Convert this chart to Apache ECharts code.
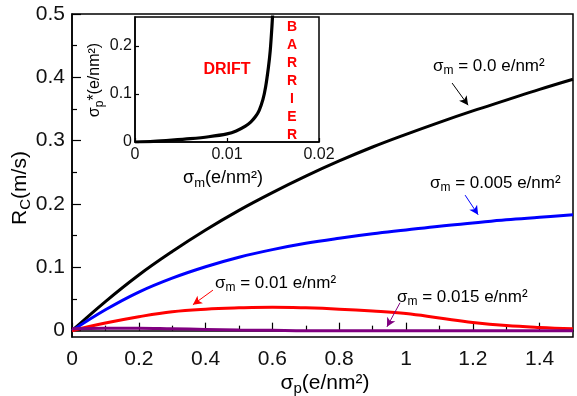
<!DOCTYPE html>
<html>
<head>
<meta charset="utf-8">
<script src="https://cdn.jsdelivr.net/npm/echarts@6/dist/echarts.min.js"></script>
<style>
  html, body { margin: 0; padding: 0; background: #fff; }
  #chart { width: 577px; height: 396px; }
</style>
</head>
<body>
<div id="chart"></div>
<script>
// main panel: Rc (m/s) against sigma_p for four sigma_m values
const sigmaP = [0, 0.1, 0.2, 0.3, 0.4, 0.5, 0.6, 0.7, 0.8, 0.9, 1.0, 1.1, 1.2, 1.3, 1.4, 1.5];
const rcM000 = [0, 0.046, 0.088, 0.125, 0.159, 0.190, 0.218, 0.244, 0.268, 0.290, 0.310, 0.329, 0.347, 0.364, 0.381, 0.397];
const rcM005 = [0, 0.033, 0.061, 0.083, 0.101, 0.116, 0.128, 0.138, 0.146, 0.153, 0.159, 0.165, 0.170, 0.175, 0.179, 0.183];
const rcM010 = [0, 0.012, 0.022, 0.030, 0.034, 0.036, 0.037, 0.036, 0.034, 0.031, 0.027, 0.020, 0.013, 0.008, 0.005, 0.003];
const rcM015 = [0.003, 0.004, 0.004, 0.003, 0.002, 0.001, 0.0005, 0, 0, 0, 0, 0, 0, 0, 0, 0];

// inset: sigma_p* against sigma_m
const sigmaM = [0, 0.002, 0.004, 0.006, 0.008, 0.010, 0.011, 0.012, 0.0126, 0.0131, 0.0135, 0.0139, 0.0142, 0.0145, 0.0147, 0.0149, 0.0150];
const sigmaPStar = [0, 0.0015, 0.004, 0.007, 0.011, 0.017, 0.023, 0.033, 0.042, 0.053, 0.066, 0.088, 0.115, 0.155, 0.190, 0.245, 0.280];

// ticks
const xMajor = [0, 0.2, 0.4, 0.6, 0.8, 1, 1.2, 1.4];
const xMinor = [0.1, 0.3, 0.5, 0.7, 0.9, 1.1, 1.3];
const yMajor = [0, 0.1, 0.2, 0.3, 0.4, 0.5];
const yMinor = [0.05, 0.15, 0.25, 0.35, 0.45];
const insetXTicks = [0, 0.01, 0.02];
const insetYTicks = [0, 0.1, 0.2];

// arrows from each label to its curve, [from, to] in data units
const arrowM000 = [[1.138, 0.391], [1.186, 0.356]];
const arrowM005 = [[1.177, 0.214], [1.216, 0.183]];
const arrowM010 = [[0.422, 0.064], [0.362, 0.041]];
const arrowM015 = [[0.982, 0.044], [0.943, 0.006]];

const FONT = 'Liberation Sans';
const BLACK = '#000000';
const BLUE = '#0000ff';
const RED = '#ff0000';
const PURPLE = '#800080';

const pairs = (xs, ys) => xs.map((x, i) => [x, ys[i]]);

const richFor = (size, color) => ({
  a: { fontSize: size, color: color, fontFamily: FONT },
  s: { fontSize: Math.round(size * 0.72), color: color, fontFamily: FONT, padding: [Math.round(size * 0.55), 0, 0, 0] }
});

const arrowLine = (arrow, color) => ({
  silent: true,
  symbol: ['none', 'arrow'],
  symbolSize: [7, 9],
  lineStyle: { color: color, width: 1, type: 'solid' },
  label: { show: false },
  emphasis: { disabled: true },
  data: [[{ coord: arrow[0] }, { coord: arrow[1] }]]
});

const mainLine = (name, ys, color, arrow) => ({
  name: name,
  type: 'line',
  xAxisIndex: 0,
  yAxisIndex: 0,
  data: pairs(sigmaP, ys),
  smooth: 0.4,
  showSymbol: false,
  lineStyle: { color: color, width: 3 },
  itemStyle: { color: color },
  z: 3,
  markLine: arrowLine(arrow, color)
});

const tickAxis = (grid, pos, min, max, values, len, labels, fontSize, margin) => ({
  type: 'value',
  gridIndex: grid,
  position: pos,
  min: min,
  max: max,
  splitLine: { show: false },
  axisLine: { show: labels, lineStyle: { color: '#000', width: 1.5 } },
  axisTick: { show: true, inside: true, length: len, customValues: values, lineStyle: { color: '#000', width: 1.2 } },
  axisLabel: {
    show: labels,
    customValues: values,
    fontFamily: FONT,
    fontSize: fontSize,
    color: '#111',
    margin: margin
  }
});

const label = (text, x, y, color, size) => ({
  type: 'text',
  x: x,
  y: y,
  z: 10,
  style: {
    text: text,
    rich: richFor(size, color),
    align: 'left',
    verticalAlign: 'middle'
  }
});

const chart = echarts.init(document.getElementById('chart'));

const option = {
  animation: false,
  backgroundColor: '#fff',
  grid: [
    { left: 72, top: 14, width: 501, height: 323, show: true, borderColor: '#000', borderWidth: 1.5, backgroundColor: 'transparent' },
    { left: 135, top: 17, width: 184, height: 125, show: true, borderColor: '#000', borderWidth: 1.5, backgroundColor: '#fff' }
  ],
  xAxis: [
    tickAxis(0, 'bottom', 0, 1.5, xMajor, 8, true, 21, 12),
    tickAxis(0, 'bottom', 0, 1.5, xMinor, 5, false, 21, 12),
    tickAxis(1, 'bottom', 0, 0.02, insetXTicks, 4, true, 16, 5)
  ],
  yAxis: [
    tickAxis(0, 'left', -0.01, 0.5, yMajor, 9, true, 21, 7),
    tickAxis(0, 'left', -0.01, 0.5, yMinor, 5, false, 21, 7),
    tickAxis(1, 'left', 0, 0.26, insetYTicks, 4, true, 16, 3)
  ],
  series: [
    mainLine('0.0', rcM000, BLACK, arrowM000),
    mainLine('0.005', rcM005, BLUE, arrowM005),
    mainLine('0.01', rcM010, RED, arrowM010),
    mainLine('0.015', rcM015, PURPLE, arrowM015),
    {
      name: 'inset',
      type: 'line',
      xAxisIndex: 2,
      yAxisIndex: 2,
      data: pairs(sigmaM, sigmaPStar),
      smooth: 0.3,
      showSymbol: false,
      clip: true,
      lineStyle: { color: BLACK, width: 3.2 },
      z: 5
    }
  ],
  graphic: [
    // main axis names
    {
      type: 'text', x: 325, y: 383, z: 10,
      style: { text: '{a|σ}{s|p}{a|(e/nm²)}', rich: richFor(21, '#111'), align: 'center', verticalAlign: 'middle' }
    },
    {
      type: 'text', x: 20, y: 188, rotation: Math.PI / 2, z: 10,
      style: { text: '{a|R}{s|C}{a|(m/s)}', rich: richFor(21, '#111'), align: 'center', verticalAlign: 'middle' }
    },
    // inset axis names
    {
      type: 'text', x: 223, y: 178, z: 10,
      style: { text: '{a|σ}{s|m}{a|(e/nm²)}', rich: richFor(18, '#111'), align: 'center', verticalAlign: 'middle' }
    },
    {
      type: 'text', x: 95, y: 80, rotation: Math.PI / 2, z: 10,
      style: { text: '{a|σ}{s|p}{a|*(e/nm²)}', rich: richFor(16, '#111'), align: 'center', verticalAlign: 'middle' }
    },
    // inset region labels
    {
      type: 'text', x: 227, y: 70, z: 10,
      style: { text: 'DRIFT', fill: RED, font: 'bold 16px "Liberation Sans"', align: 'center', verticalAlign: 'middle' }
    },
    {
      type: 'text', x: 292, y: 81, z: 10,
      style: { text: 'B\nA\nR\nR\nI\nE\nR', fill: RED, font: 'bold 14px "Liberation Sans"', lineHeight: 18, align: 'center', verticalAlign: 'middle' }
    },
    // curve labels
    label('{a|σ}{s|m}{a| = 0.0 e/nm²}', 433, 66, BLACK, 17),
    label('{a|σ}{s|m}{a| = 0.005 e/nm²}', 430, 183, BLUE, 17),
    label('{a|σ}{s|m}{a| = 0.01 e/nm²}', 215, 283, RED, 17),
    label('{a|σ}{s|m}{a| = 0.015 e/nm²}', 397, 297, PURPLE, 17)
  ]
};

chart.setOption(option);
</script>
</body>
</html>
